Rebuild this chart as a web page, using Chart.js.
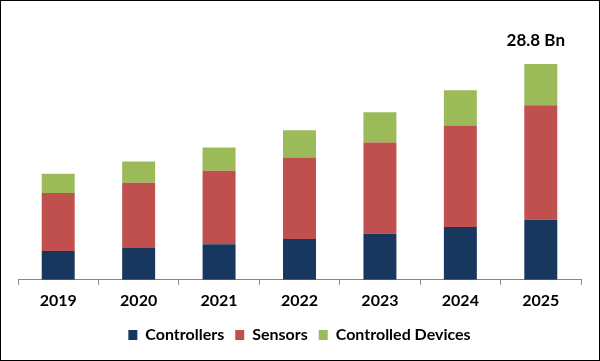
<!DOCTYPE html>
<html>
<head>
<meta charset="utf-8">
<script src="https://cdn.jsdelivr.net/npm/chart.js@4/dist/chart.umd.min.js"></script>
<style>
  html, body { margin: 0; padding: 0; background: #fff; }
  #wrap { width: 600px; height: 361px; position: relative; }
</style>
</head>
<body>
<div id="wrap"><canvas id="chart"></canvas></div>
<script>
var years = ['2019', '2020', '2021', '2022', '2023', '2024', '2025'];
var controllers = [3.84, 4.25, 4.74, 5.46, 6.13, 7.03, 8.01];
var sensors = [7.75, 8.70, 9.81, 10.85, 12.19, 13.57, 15.28];
var controlledDevices = [2.55, 2.82, 3.09, 3.63, 4.03, 4.70, 5.51];
var topLabel = '28.8 Bn';

var fontFamily = "Lato, 'Open Sans', sans-serif";

// total label above the last bar + thin frame round the picture
var extras = {
    id: 'extras',
    afterDatasetsDraw: function(chart) {
        var ctx = chart.ctx;
        var last = years.length - 1;
        var total = controllers[last] + sensors[last] + controlledDevices[last];
        var x = chart.scales.x.getPixelForValue(last);
        var y = chart.scales.y.getPixelForValue(total);
        ctx.save();
        ctx.font = "bold 17px " + fontFamily;
        ctx.fillStyle = '#000';
        ctx.textAlign = 'center';
        ctx.textBaseline = 'middle';
        ctx.fillText(topLabel, x - 5, y - 23);
        ctx.restore();
    },
    afterDraw: function(chart) {
        var ctx = chart.ctx;
        ctx.save();
        ctx.strokeStyle = '#000';
        ctx.lineWidth = 1;
        ctx.strokeRect(0.5, 0.5, chart.width - 1, chart.height - 1);
        ctx.restore();
    }
};

new Chart(document.getElementById('chart'), {
    type: 'bar',
    data: {
        labels: years,
        datasets: [{
            label: 'Controllers',
            data: controllers,
            backgroundColor: '#17375E'
        }, {
            label: 'Sensors',
            data: sensors,
            backgroundColor: '#C0504D'
        }, {
            label: 'Controlled Devices',
            data: controlledDevices,
            backgroundColor: '#9BBB59'
        }]
    },
    options: {
        responsive: true,
        maintainAspectRatio: false,
        animation: false,
        datasets: {
            bar: {
                categoryPercentage: 0.82,
                barPercentage: 0.5
            }
        },
        layout: {
            padding: { top: 10, left: 18, right: 19, bottom: 8 }
        },
        plugins: {
            legend: {
                position: 'bottom',
                labels: {
                    boxWidth: 9,
                    boxHeight: 10,
                    padding: 11,
                    color: '#000',
                    font: { family: fontFamily, size: 16, weight: 'bold' }
                }
            },
            tooltip: { enabled: false }
        },
        scales: {
            x: {
                stacked: true,
                grid: {
                    offset: true,
                    drawOnChartArea: false,
                    tickLength: 5,
                    color: '#868686'
                },
                border: { color: '#868686' },
                ticks: {
                    padding: 6,
                    color: '#000',
                    font: { family: fontFamily, size: 16, weight: 'bold' }
                }
            },
            y: {
                stacked: true,
                display: false,
                min: 0,
                max: 36
            }
        }
    },
    plugins: [extras]
});
</script>
</body>
</html>
